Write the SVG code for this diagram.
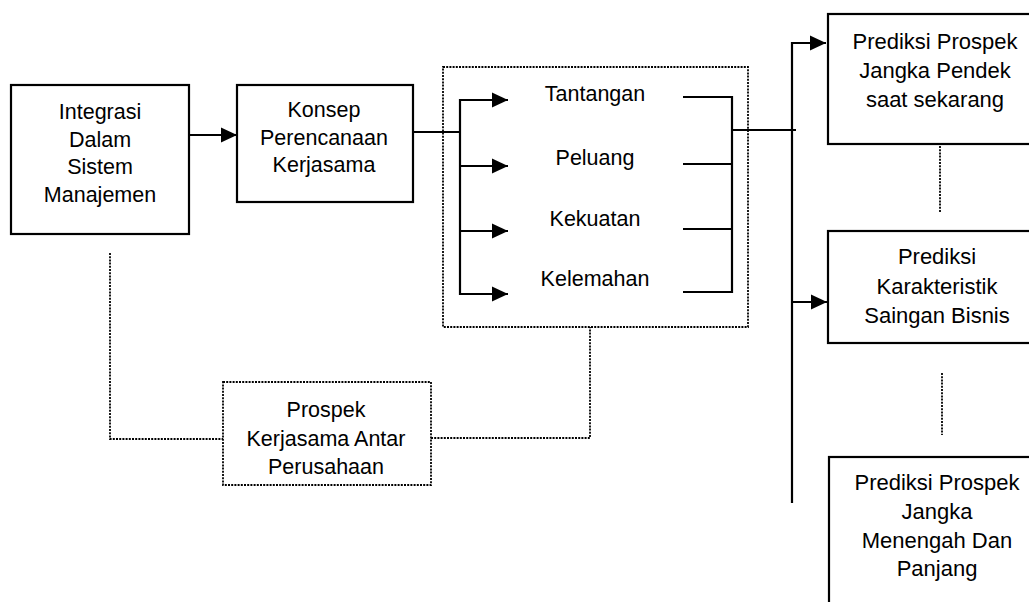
<svg xmlns="http://www.w3.org/2000/svg" width="1029" height="602" viewBox="0 0 1029 602">
<defs>
<style>
.box{fill:none;stroke:#000;stroke-width:2.2}
.dbox{fill:none;stroke:#000;stroke-width:1.8;stroke-dasharray:2 1.2}
.ln{fill:none;stroke:#000;stroke-width:2.2}
.dl{fill:none;stroke:#000;stroke-width:1.8;stroke-dasharray:2 1.2}
.t{font-family:"Liberation Sans",Arial,sans-serif;font-size:21.5px;fill:#000;text-anchor:middle}
.r{font-size:22px}
</style>
<marker id="ah" markerUnits="userSpaceOnUse" markerWidth="16" markerHeight="16" refX="16" refY="8" orient="auto">
<path d="M0,0.5 L16,8 L0,15.5 Z" fill="#000"/>
</marker>
</defs>
<rect width="1029" height="602" fill="#fff"/>

<g id="connectors">
<line class="ln" x1="189" y1="135" x2="237" y2="135" marker-end="url(#ah)"/>
<polyline class="ln" points="413,132 460,132"/>
<line class="ln" x1="460" y1="99" x2="460" y2="295"/>
<line class="ln" x1="460" y1="100" x2="508" y2="100" marker-end="url(#ah)"/>
<line class="ln" x1="460" y1="166" x2="508" y2="166" marker-end="url(#ah)"/>
<line class="ln" x1="460" y1="231" x2="508" y2="231" marker-end="url(#ah)"/>
<line class="ln" x1="460" y1="294" x2="508" y2="294" marker-end="url(#ah)"/>
<polyline class="ln" points="683,97 732,97 732,292 683,292"/>
<line class="ln" x1="683" y1="164" x2="732" y2="164"/>
<line class="ln" x1="683" y1="229" x2="732" y2="229"/>
<line class="ln" x1="732" y1="130" x2="796" y2="130"/>
<line class="ln" x1="792" y1="42" x2="792" y2="503"/>
<line class="ln" x1="792" y1="43" x2="826" y2="43" marker-end="url(#ah)"/>
<line class="ln" x1="792" y1="302" x2="827" y2="302" marker-end="url(#ah)"/>
<polyline class="dl" points="110,253 110,439 223,439"/>
<polyline class="dl" points="431,438 590,438 590,327"/>
<line class="dl" x1="940" y1="146" x2="940" y2="213"/>
<line class="dl" x1="942" y1="373" x2="942" y2="435"/>
</g>

<g id="integrasi">
<rect class="box" x="11" y="85" width="178" height="149"/>
<text class="t" x="100" y="119">Integrasi</text>
<text class="t" x="100" y="147">Dalam</text>
<text class="t" x="100" y="174">Sistem</text>
<text class="t" x="100" y="202">Manajemen</text>
</g>

<g id="konsep">
<rect class="box" x="237" y="85" width="176" height="117"/>
<text class="t" x="324" y="117">Konsep</text>
<text class="t" x="324" y="145">Perencanaan</text>
<text class="t" x="324" y="172">Kerjasama</text>
</g>

<g id="swot">
<rect class="dbox" x="443" y="67" width="305" height="260"/>
<text class="t" x="595" y="101">Tantangan</text>
<text class="t" x="595" y="165">Peluang</text>
<text class="t" x="595" y="226">Kekuatan</text>
<text class="t" x="595" y="286">Kelemahan</text>
</g>

<g id="prospek">
<rect class="dbox" x="223" y="382" width="208" height="103"/>
<text class="t" x="326" y="417">Prospek</text>
<text class="t" x="326" y="446">Kerjasama Antar</text>
<text class="t" x="326" y="474">Perusahaan</text>
</g>

<g id="pendek">
<rect class="box" x="828" y="14" width="215" height="130"/>
<text class="t r" x="935" y="49">Prediksi Prospek</text>
<text class="t r" x="935" y="78">Jangka Pendek</text>
<text class="t r" x="935" y="107">saat sekarang</text>
</g>

<g id="karakteristik">
<rect class="box" x="828" y="231" width="215" height="112"/>
<text class="t r" x="937" y="264">Prediksi</text>
<text class="t r" x="937" y="294">Karakteristik</text>
<text class="t r" x="937" y="323">Saingan Bisnis</text>
</g>

<g id="menengah">
<rect class="box" x="829" y="457" width="215" height="160"/>
<text class="t r" x="937" y="490">Prediksi Prospek</text>
<text class="t r" x="937" y="519">Jangka</text>
<text class="t r" x="937" y="548">Menengah Dan</text>
<text class="t r" x="937" y="576">Panjang</text>
</g>
</svg>
